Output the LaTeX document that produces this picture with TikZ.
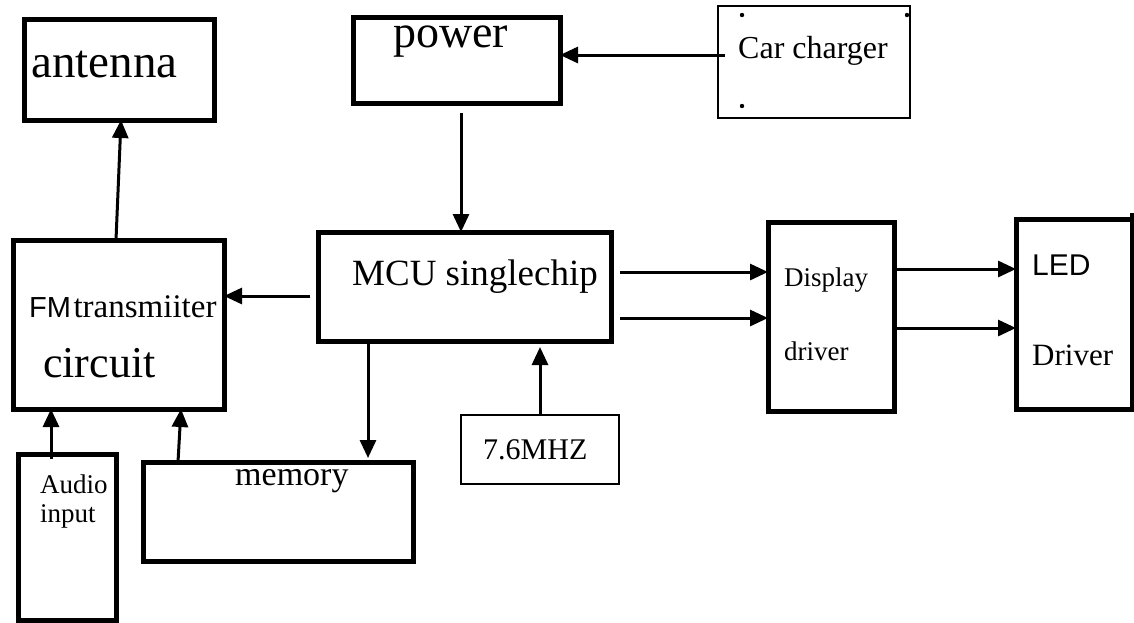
\documentclass[tikz,border=0pt]{standalone}
\usepackage{fontspec}
\setmainfont{Liberation Serif}
\setsansfont{Liberation Sans}
\usetikzlibrary{arrows.meta}
\newcommand{\fsz}[1]{\fontsize{#1}{#1}\selectfont}

\begin{document}
\begin{tikzpicture}[x=1pt, y=-1pt,
  blk/.style={draw, line width=5pt, inner sep=0pt, outer sep=0pt},
  thinblk/.style={draw, line width=2.2pt, inner sep=0pt, outer sep=0pt},
  txt/.style={anchor=base west, inner sep=0pt},
  sig/.style={line width=3pt, -{Triangle[length=18pt,width=16pt]}}]
\useasboundingbox (0,0) rectangle (1134,622);
% --- blocks ---
\node[blk, minimum width=190pt, minimum height=101pt] (ant)  at (119,69.5)  {};
\node[blk, minimum width=207pt, minimum height=86pt]  (pow)  at (456.5,60)  {};
\node[thinblk, minimum width=192pt, minimum height=112pt] (car) at (814,62) {};
\node[blk, minimum width=211pt, minimum height=169pt] (fm)   at (118.5,324.5) {};
\node[blk, minimum width=293pt, minimum height=109pt] (mcu)  at (464.5,286.5) {};
\node[blk, minimum width=126pt, minimum height=189pt] (disp) at (831,316.5) {};
\node[blk, minimum width=116pt, minimum height=190pt] (led)  at (1074,314) {};
\node[thinblk, minimum width=158pt, minimum height=69pt] (osc) at (540,449.5) {};
\node[blk, minimum width=270pt, minimum height=99pt]  (mem)  at (278,511.5) {};
\node[blk, minimum width=98pt, minimum height=166pt]  (aud)  at (67,537) {};
\draw[line width=5pt] (led.north east) -- ++(0,-6);
% --- labels ---
\node[txt] (antT)  at (31,77)   {\fsz{47}antenna};
\node[txt] (powT)  at (393,47)  {\fsz{46}power};
\node[txt] (carT)  at (738,58)  {\fsz{32}Car charger};
\node[txt] (fmT)   at (29,317)  {{\sffamily\fsz{29}FM} {\fsz{33}transmiiter}};
\node[txt] (fmT2)  at (43,377)  {\fsz{44}circuit};
\node[txt] (mcuT)  at (352,285) {\fsz{37}MCU singlechip};
\node[txt] (dispT) at (784,286) {\fsz{27}Display};
\node[txt] (dispT2) at (784,360) {\fsz{27}driver};
\node[txt] (ledT)  at (1032,275) {\sffamily\fsz{30}LED};
\node[txt] (ledT2) at (1032,365) {\fsz{31}Driver};
\node[txt] (oscT)  at (483,459) {\fsz{30}7.6MHZ};
\node[txt] (memT)  at (235,485) {\fsz{34}memory};
\node[txt] (audT)  at (40,493)  {\fsz{27}Audio};
\node[txt] (audT2) at (40,522)  {\fsz{27}input};
% corner marks of the car charger box
\fill (742,15) circle (2.2pt);
\fill (907,15) circle (2.2pt);
\fill (742,106) circle (2.2pt);
% --- signals ---
\coordinate (c2p) at (725,55);
\coordinate (p2m) at (461,113);
\coordinate (m2f) at (310,296);
\coordinate (md1) at (620,272);
\coordinate (md2) at (620,318);
\coordinate (dl1) at (894,269);
\coordinate (dl2) at (894,328);
\coordinate (m2m) at (368,342);
\coordinate (a2f) at (51,459);
\draw[sig] ([xshift=-2.5pt]fm.north) -- ([xshift=2pt]ant.south);
\draw[sig] (c2p) -- (c2p -| pow.east);
\draw[sig] (p2m) -- (p2m |- mcu.north);
\draw[sig] (m2f) -- (m2f -| fm.east);
\draw[sig] (md1) -- (md1 -| disp.west);
\draw[sig] (md2) -- (md2 -| disp.west);
\draw[sig] (dl1) -- (dl1 -| led.west);
\draw[sig] (dl2) -- (dl2 -| led.west);
\draw[sig, shorten >=6pt] (osc.north) -- (osc.north |- mcu.south);
\draw[sig, shorten >=4pt] (m2m) -- (m2m |- mem.north);
\draw[sig] ([xshift=-100pt]mem.north) -- ([xshift=62.5pt]fm.south);
\draw[sig] (a2f) -- (a2f |- fm.south);
\end{tikzpicture}
\end{document}
